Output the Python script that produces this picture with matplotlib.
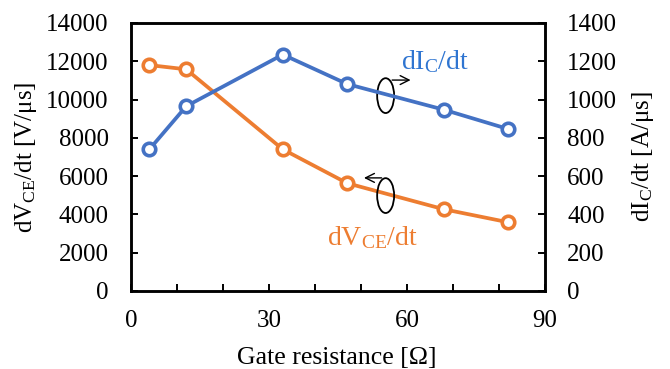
import matplotlib
matplotlib.use("Agg")
import matplotlib.pyplot as plt
from matplotlib.patches import Ellipse

plt.rcParams['font.family'] = ['Liberation Serif', 'DejaVu Serif']
plt.rcParams['mathtext.fontset'] = 'custom'
plt.rcParams['mathtext.rm'] = 'Liberation Serif'
plt.rcParams['mathtext.it'] = 'Liberation Serif:italic'

gate_resistance = [4, 12, 33, 47, 68, 82]
dv_dt = [11800, 11580, 7400, 5630, 4270, 3590]
di_dt = [740, 965, 1235, 1081, 947, 846]

blue = '#4472C4'
orange = '#ED7D31'

fig = plt.figure(figsize=(6.7, 3.69), dpi=100)
ax = fig.add_axes([0.1955, 0.2114, 0.618, 0.7263])
ax2 = ax.twinx()

ax.plot(gate_resistance, dv_dt, color=orange, lw=2.7, marker='o', ms=9,
        mfc='white', mec=orange, mew=2.6, zorder=3)
ax2.plot(gate_resistance, di_dt, color=blue, lw=2.7, marker='o', ms=9,
         mfc='white', mec=blue, mew=2.6, zorder=3)

ax.set_xlim(0, 90)
ax.set_ylim(0, 14000)
ax2.set_ylim(0, 1400)
ax.set_xticks([0, 30, 60, 90])
ax.set_xticks(range(0, 91, 10), minor=True)
ax.set_yticks(range(0, 14001, 2000))
ax2.set_yticks(range(0, 1401, 200))

for a in (ax, ax2):
    for s in a.spines.values():
        s.set_linewidth(1.8)
        s.set_color('black')
ax.tick_params(axis='y', which='both', direction='in', length=5, width=1.4, labelsize=18, pad=16)
ax.tick_params(axis='x', which='both', direction='in', length=5, width=1.4, labelsize=18, pad=14)
ax2.tick_params(axis='y', direction='in', length=5, width=1.4, labelsize=18, pad=16)

ax.set_xlabel('Gate resistance [Ω]', fontsize=18.5, va='baseline')
ax.xaxis.set_label_coords(0.497, -0.272)
ax.set_ylabel(r'dV$_{\mathrm{CE}}$/dt [V/μs]', fontsize=18, va='center', ha='center')
ax.yaxis.set_label_coords(-0.254, 0.5)
ax2.set_ylabel(r'dI$_{\mathrm{C}}$/dt [A/μs]', fontsize=18, va='center', ha='center')
ax2.yaxis.set_label_coords(1.237, 0.5)

ax.text(0.734, 0.828, r'dI$_{\mathrm{C}}$/dt', transform=ax.transAxes, color='#2F75D1',
        fontsize=20, ha='center', va='baseline')
ax.text(0.583, 0.172, r'dV$_{\mathrm{CE}}$/dt', transform=ax.transAxes, color=orange,
        fontsize=20, ha='center', va='baseline')

for cy in (0.729, 0.356):
    ax.add_patch(Ellipse((0.615, cy), 0.041, 0.13, transform=ax.transAxes,
                         fill=False, ec='black', lw=1.3, zorder=4))
ax.annotate('', xy=(0.682, 0.787), xytext=(0.624, 0.787), xycoords='axes fraction',
            arrowprops=dict(arrowstyle='->', color='black', lw=1.0, mutation_scale=16), zorder=4)
ax.annotate('', xy=(0.556, 0.422), xytext=(0.612, 0.422), xycoords='axes fraction',
            arrowprops=dict(arrowstyle='->', color='black', lw=1.0, mutation_scale=16), zorder=4)

fig.savefig('out.png', dpi=100)
